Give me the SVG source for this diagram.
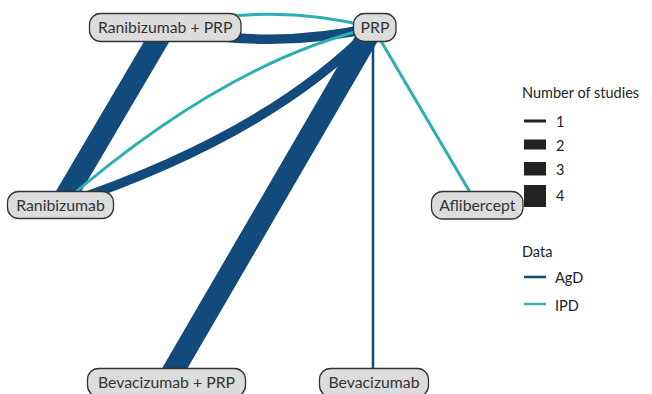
<svg xmlns="http://www.w3.org/2000/svg" width="652" height="394" viewBox="0 0 652 394">
<style>
.agd{stroke:#114a7b;fill:none;stroke-linecap:butt}
.ipd{stroke:#2bafb5;fill:none;stroke-width:3}
.node rect{fill:#dcdcdc;stroke:#333;stroke-width:1.3}
.node text{font-family:Lato,"Liberation Sans",sans-serif;font-size:15.8px;fill:#333;text-anchor:middle}
.leg{font-family:Lato,"Liberation Sans",sans-serif;font-size:14.5px;fill:#222}
</style>
<rect width="652" height="394" fill="#fff"/>
<g id="connectors">
  <line class="agd" x1="165" y1="27.5" x2="60.5" y2="205" stroke-width="22"/>
  <line class="agd" x1="373" y1="27.5" x2="166.5" y2="382.5" stroke-width="22"/>
  <line class="agd" x1="373" y1="27.5" x2="373" y2="382.5" stroke-width="2.5"/>
  <path class="agd" d="M165,27.5 Q269,51 373,27.5" stroke-width="9.5"/>
  <path class="ipd" d="M165,27.5 Q269,1 373,27.5"/>
  <path class="agd" d="M60.5,205 Q268,136 373,27.5" stroke-width="9.5"/>
  <path class="ipd" d="M60.5,205 Q225.7,61.4 373,27.5"/>
  <line class="ipd" x1="373" y1="27.5" x2="477.5" y2="205"/>
</g>
<g id="node-ranibizumab-prp" class="node"><rect x="89.5" y="13.5" width="151.5" height="28" rx="11"/><text x="165.2" y="33">Ranibizumab + PRP</text></g>
<g id="node-prp" class="node"><rect x="353.5" y="13.5" width="42.5" height="28" rx="11"/><text x="375" y="33">PRP</text></g>
<g id="node-ranibizumab" class="node"><rect x="7.5" y="191.5" width="106" height="27" rx="11"/><text x="60.5" y="210.5">Ranibizumab</text></g>
<g id="node-aflibercept" class="node"><rect x="431.5" y="191.5" width="91.5" height="27.5" rx="11"/><text x="477.3" y="210.5">Aflibercept</text></g>
<g id="node-bevacizumab-prp" class="node"><rect x="87.5" y="368.5" width="158" height="28" rx="11"/><text x="166.5" y="388">Bevacizumab + PRP</text></g>
<g id="node-bevacizumab" class="node"><rect x="319.5" y="368.5" width="109" height="28" rx="11"/><text x="374" y="388">Bevacizumab</text></g>
<g id="legend">
  <text class="leg" x="522" y="98">Number of studies</text>
  <rect x="524" y="119.5" width="22" height="3" fill="#222"/>
  <rect x="524" y="139.5" width="22" height="10" fill="#222"/>
  <rect x="524" y="162" width="22" height="13.5" fill="#222"/>
  <rect x="524" y="185" width="22" height="22" fill="#222"/>
  <text class="leg" x="556" y="126.5">1</text>
  <text class="leg" x="556" y="151">2</text>
  <text class="leg" x="556" y="175">3</text>
  <text class="leg" x="556" y="200.5">4</text>
  <text class="leg" x="522" y="257">Data</text>
  <line x1="524" y1="277" x2="546" y2="277" stroke="#114a7b" stroke-width="2.5"/>
  <line x1="524" y1="304" x2="546" y2="304" stroke="#2bafb5" stroke-width="2.5"/>
  <text class="leg" x="555" y="283">AgD</text>
  <text class="leg" x="555" y="310.5">IPD</text>
</g>
</svg>
